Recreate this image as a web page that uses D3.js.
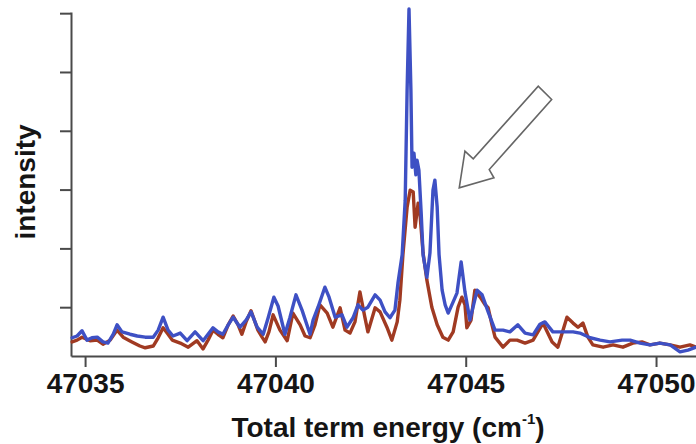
<!DOCTYPE html>
<html>
<head>
<meta charset="utf-8">
<script src="https://cdn.jsdelivr.net/npm/d3@7"></script>
<style>
  html, body { margin: 0; padding: 0; background: #fff; }
  svg { display: block; }
  text { font-family: "Liberation Sans", Arial, Helvetica, sans-serif; }
</style>
</head>
<body>
<svg id="chart" width="696" height="444"></svg>
<script>
// ---- data (energy in cm^-1, intensity in arbitrary units) ----
const blueEnergy = [47034.66,47034.79,47034.92,47035.05,47035.18,47035.32,47035.47,47035.60,47035.74,47035.84,47035.97,47036.18,47036.37,47036.58,47036.79,47036.92,47037.05,47037.18,47037.31,47037.50,47037.68,47037.89,47038.10,47038.23,47038.36,47038.49,47038.62,47038.76,47038.89,47039.07,47039.23,47039.36,47039.52,47039.68,47039.81,47039.96,47040.07,47040.25,47040.38,47040.54,47040.70,47040.91,47040.99,47041.12,47041.30,47041.41,47041.57,47041.75,47041.88,47042.04,47042.17,47042.30,47042.43,47042.62,47042.75,47042.88,47043.01,47043.14,47043.22,47043.33,47043.41,47043.46,47043.51,47043.56,47043.59,47043.64,47043.69,47043.72,47043.77,47043.83,47043.88,47043.98,47044.06,47044.14,47044.19,47044.25,47044.30,47044.38,47044.46,47044.54,47044.67,47044.77,47044.88,47044.98,47045.11,47045.30,47045.43,47045.59,47045.77,47045.98,47046.16,47046.37,47046.56,47046.77,47046.95,47047.08,47047.29,47047.56,47047.82,47048.00,47048.27,47048.53,47048.79,47049.11,47049.32,47049.58,47049.84,47050.10,47050.37,47050.63,47050.84,47051.05];
const blueIntensity = [48,51,60,44,48,49,41,39,54,70,58,54,51,49,49,61,83,61,51,56,43,58,43,54,65,58,54,70,83,66,78,92,66,54,82,117,102,54,82,121,95,54,78,100,134,117,83,87,66,82,104,95,100,121,112,92,82,95,141,189,282,469,607,469,338,362,325,350,333,260,189,151,192,299,316,270,189,129,104,90,109,124,177,126,78,129,121,92,61,61,58,70,56,53,71,75,58,58,58,56,48,44,41,44,44,39,36,39,36,24,27,32];

const redEnergy = [47034.66,47034.79,47034.92,47035.13,47035.32,47035.47,47035.66,47035.84,47036.00,47036.23,47036.44,47036.58,47036.79,47036.92,47037.05,47037.18,47037.29,47037.50,47037.71,47037.94,47038.10,47038.23,47038.36,47038.49,47038.62,47038.76,47038.89,47039.02,47039.12,47039.23,47039.36,47039.54,47039.65,47039.73,47039.83,47039.94,47040.12,47040.31,47040.46,47040.65,47040.78,47040.91,47041.04,47041.17,47041.36,47041.51,47041.70,47041.83,47041.96,47042.09,47042.22,47042.35,47042.43,47042.62,47042.75,47042.93,47043.06,47043.20,47043.27,47043.35,47043.46,47043.54,47043.62,47043.67,47043.75,47043.80,47043.88,47043.98,47044.11,47044.25,47044.40,47044.54,47044.67,47044.80,47044.90,47044.98,47045.03,47045.14,47045.24,47045.38,47045.51,47045.59,47045.69,47045.77,47045.98,47046.16,47046.35,47046.56,47046.77,47047.03,47047.27,47047.42,47047.66,47047.82,47047.95,47048.08,47048.21,47048.34,47048.61,47048.87,47049.13,47049.39,47049.63,47049.84,47050.10,47050.37,47050.63,47050.89,47051.05];
const redIntensity = [41,44,49,43,44,37,44,61,49,41,34,31,34,48,65,54,44,39,32,43,29,44,61,54,48,70,85,70,54,75,94,61,49,41,58,87,61,43,90,70,51,48,70,104,90,66,99,61,56,75,126,83,58,99,92,66,44,75,112,189,270,299,296,236,277,257,192,146,100,70,49,44,58,100,117,104,65,78,129,117,104,99,70,49,32,44,44,39,44,73,41,32,83,73,66,73,49,36,32,36,32,39,41,36,39,36,32,36,32];

const xTickValues = [47035, 47040, 47045, 47050];
const yTickValues = [100, 200, 300, 400, 500, 600];
const xDomain = [47034.63, 47051.05];
const yDomain = [17, 602];
const arrowTip = [47044.83, 303];
const xTitle = "Total term energy (cm";
const xTitleSup = "-1";
const yTitle = "intensity";

// ---- drawing ----
const svg = d3.select("#chart");
const x = d3.scaleLinear().domain(xDomain).range([71, 696]);
const y = d3.scaleLinear().domain(yDomain).range([356, 12]);

const axisColor = "#4a4a4a";

// axes
const gx = svg.append("g").attr("transform", "translate(0,356)")
  .call(d3.axisBottom(x).tickValues(xTickValues).tickSize(11).tickSizeOuter(0).tickPadding(6).tickFormat(d3.format("d")));
gx.select(".domain").attr("stroke", axisColor).attr("stroke-width", 2);
gx.selectAll(".tick line").attr("stroke", axisColor).attr("stroke-width", 2);
gx.selectAll(".tick text").attr("fill", "#151515").style("font-size", "28px").style("font-weight", "bold")
  .style("font-family", "'Liberation Sans', Arial, sans-serif");

const gy = svg.append("g").attr("transform", "translate(71,0)")
  .call(d3.axisLeft(y).tickValues(yTickValues).tickSize(11).tickSizeOuter(0).tickFormat(""));
gy.select(".domain").attr("stroke", axisColor).attr("stroke-width", 2);
gy.selectAll(".tick line").attr("stroke", axisColor).attr("stroke-width", 2);

// lines
const line = d3.line().x(d => x(d[0])).y(d => y(d[1]));
const redData = redEnergy.map((e, i) => [e, redIntensity[i]]);
const blueData = blueEnergy.map((e, i) => [e, blueIntensity[i]]);

svg.append("path").datum(redData).attr("d", line)
  .attr("fill", "none").attr("stroke", "#a03a22").attr("stroke-width", 3.4)
  .attr("stroke-linejoin", "round").attr("stroke-linecap", "round");
svg.append("path").datum(blueData).attr("d", line)
  .attr("fill", "none").attr("stroke", "#3e50c4").attr("stroke-width", 3.4)
  .attr("stroke-linejoin", "round").attr("stroke-linecap", "round");

// arrow annotation (outline)
const tx = x(arrowTip[0]), ty = y(arrowTip[1]);
const arrowShape = [[0,0],[5.7,-36.6],[14,-29],[79,-101.6],[92.4,-88.3],[30,-18.3],[34.7,-10]];
svg.append("polygon")
  .attr("points", arrowShape.map(p => [tx + p[0], ty + p[1]].join(",")).join(" "))
  .attr("fill", "#fff").attr("stroke", "#666").attr("stroke-width", 1.6).attr("stroke-linejoin", "miter");

// axis titles
const xt = svg.append("text").attr("x", 388).attr("y", 437).attr("text-anchor", "middle")
  .attr("fill", "#151515").style("font-size", "28px").style("font-weight", "bold");
xt.append("tspan").text(xTitle);
xt.append("tspan").attr("dy", -13).style("font-size", "15px").text(xTitleSup);
xt.append("tspan").attr("dy", 13).text(")");

svg.append("text").attr("transform", "translate(35,182) rotate(-90)").attr("text-anchor", "middle")
  .attr("fill", "#151515").style("font-size", "28px").style("font-weight", "bold").text(yTitle);
</script>
</body>
</html>
